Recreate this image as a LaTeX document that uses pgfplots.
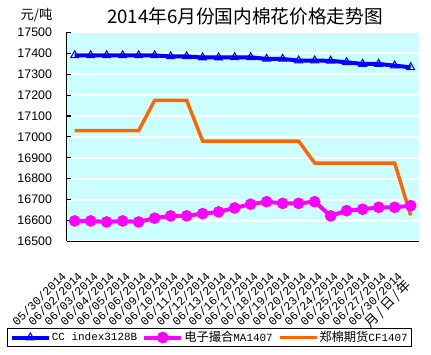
\documentclass[border=0pt]{standalone}
\usepackage{fontspec}
\setmainfont{Liberation Sans}
\setsansfont{Liberation Sans}
\setmonofont{Liberation Mono}
\newfontfamily\cjk{Noto Sans CJK SC}
\usepackage{pgfplots}
\pgfplotsset{compat=1.18}
\definecolor{bgc}{HTML}{CCFFFF}
\definecolor{ccblue}{HTML}{0000FF}
\definecolor{mamag}{HTML}{FF00FF}
\definecolor{cforange}{HTML}{FF6600}
\begin{document}
\begin{tikzpicture}
\path[use as bounding box] (0,0) rectangle (323.25pt,265.5pt);
\begin{axis}[
  at={(50pt,84.45pt)}, anchor=south west,
  width=264pt, height=156.75pt, scale only axis,
  xmin=-0.5, xmax=21.5, ymin=16500, ymax=17500,
  axis lines*=left,
  axis line style={black, line width=0.8pt},
  axis background/.style={fill=bgc},
  ytick={16500,16600,...,17500},
  scaled y ticks=false,
  ymajorgrids, grid style={white, line width=1.6pt},
  major tick length=3pt,
  tick style={black, line width=0.8pt},
  xtick={0,...,21},
  x tick style={draw=none},
  minor xtick={-0.5,0.5,...,21.5},
  minor x tick style={black, line width=0.8pt},
  minor tick length=3pt,
  xticklabels={05/30/2014,06/02/2014,06/03/2014,06/04/2014,06/05/2014,06/06/2014,06/09/2014,06/10/2014,06/11/2014,06/12/2014,06/13/2014,06/16/2014,06/17/2014,06/18/2014,06/19/2014,06/20/2014,06/23/2014,06/24/2014,06/25/2014,06/26/2014,06/27/2014,06/30/2014},
  xticklabel style={font=\ttfamily\fontsize{8.8}{9}\selectfont, xshift=-5.5pt, yshift=-22pt, rotate=45, anchor=east},
  yticklabel style={font=\sffamily\fontsize{9.3}{10}\selectfont, xshift=-7.5pt, /pgf/number format/fixed, /pgf/number format/precision=0},
  /pgf/number format/assume math mode=true,
  /pgf/number format/1000 sep={},
  legend columns=3,
  legend style={at={(-0.1705,-0.5067)}, anchor=south west, draw=black, line width=0.8pt,
    font=\ttfamily\fontsize{8.2}{10}\selectfont, inner xsep=2pt, inner ysep=1.5pt,
    nodes={inner sep=0.8pt},
    /tikz/every even column/.append style={column sep=3pt}},
  legend image code/.code={\draw[mark repeat=2,mark phase=2,#1] plot coordinates {(0pt,0pt) (13.9pt,0pt) (27.75pt,0pt)};},
]
\addplot[ccblue, line width=3pt, mark=triangle, mark size=3.4pt, mark options={line width=0.8pt, solid}] coordinates {
(0,17390) (1,17390) (2,17390) (3,17390) (4,17390) (5,17390) (6,17385) (7,17385) (8,17380) (9,17380) (10,17381)
(11,17381) (12,17373) (13,17373) (14,17365) (15,17365) (16,17364) (17,17357) (18,17349) (19,17349) (20,17341) (21,17333)};
\addlegendentry{CC index3128B}
\addplot[mamag, line width=3pt, mark=*, mark size=2.8pt] coordinates {
(0,16598) (1,16598) (2,16593) (3,16598) (4,16593) (5,16611) (6,16622) (7,16622) (8,16633) (9,16641) (10,16660)
(11,16678) (12,16690) (13,16682) (14,16682) (15,16690) (16,16622) (17,16647) (18,16654) (19,16663) (20,16663) (21,16671)};
\addlegendentry{{\cjk\fontsize{9.2}{10}\selectfont 电子撮合}MA1407}
\addplot[cforange, line width=2.6pt] coordinates {
(0,17030) (1,17030) (2,17030) (3,17030) (4,17030) (5,17175) (6,17175) (7,17175) (8,16980) (9,16980) (10,16980)
(11,16980) (12,16980) (13,16980) (14,16980) (15,16875) (16,16875) (17,16875) (18,16875) (19,16875) (20,16875) (21,16625)};
\addlegendentry{{\cjk\fontsize{9.2}{10}\selectfont 郑棉期货}CF1407}
\end{axis}
\node[font=\cjk\fontsize{14}{14}\selectfont] at (183.75pt,253pt) {2014年6月份国内棉花价格走势图};
\node[font=\cjk\fontsize{10}{10}\selectfont] at (27.4pt,254.25pt) {元/吨};
\node[font=\cjk\fontsize{10}{10}\selectfont, rotate=45] at (291pt,37.5pt) {月\,/\,日\,/\,年};
\end{tikzpicture}
\end{document}
